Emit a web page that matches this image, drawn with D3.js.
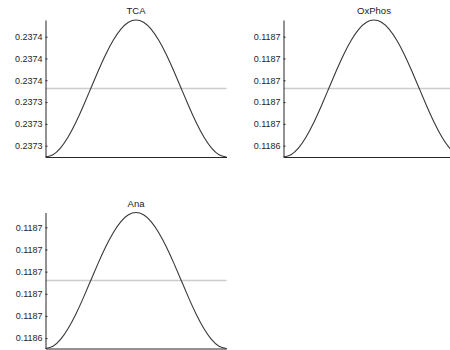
<!DOCTYPE html>
<html>
<head>
<meta charset="utf-8">
<script src="https://cdn.jsdelivr.net/npm/d3@7"></script>
<style>
  body { margin: 0; background: #fff; }
  svg { display: block; font-family: "Liberation Sans", Arial, sans-serif; }
</style>
</head>
<body>
<div id="viz"></div>
<script>
// panel names
const titles = ["TCA", "OxPhos", "Ana"];

// sample positions along x (no x labels on the chart)
const steps = d3.range(0, 25);

// curve values, one array per panel
const tcaValues = [0.2372896, 0.2372917, 0.2372980, 0.2373080, 0.2373210, 0.2373362, 0.2373525,
  0.2373687, 0.2373839, 0.2373969, 0.2374069, 0.2374132, 0.2374153, 0.2374132, 0.2374069,
  0.2373969, 0.2373839, 0.2373687, 0.2373525, 0.2373362, 0.2373210, 0.2373080, 0.2372980,
  0.2372917, 0.2372896];
const oxphosValues = [0.1186296, 0.1186317, 0.1186380, 0.1186480, 0.1186610, 0.1186762, 0.1186925,
  0.1187087, 0.1187239, 0.1187369, 0.1187469, 0.1187532, 0.1187553, 0.1187532, 0.1187469,
  0.1187369, 0.1187239, 0.1187087, 0.1186925, 0.1186762, 0.1186610, 0.1186480, 0.1186380,
  0.1186317, 0.1186296];
const anaValues = [0.1186306, 0.1186327, 0.1186388, 0.1186486, 0.1186613, 0.1186761, 0.1186920,
  0.1187079, 0.1187227, 0.1187354, 0.1187452, 0.1187513, 0.1187534, 0.1187513, 0.1187452,
  0.1187354, 0.1187227, 0.1187079, 0.1186920, 0.1186761, 0.1186613, 0.1186486, 0.1186388,
  0.1186327, 0.1186306];

// grey reference level (mean) per panel
const meanValues = [0.2373525, 0.1186925, 0.1186920];

// y tick values per panel
const tcaTicks = [0.23730, 0.23732, 0.23734, 0.23736, 0.23738, 0.23740];
const oxphosTicks = [0.11864, 0.11866, 0.11868, 0.11870, 0.11872, 0.11874];
const anaTicks = [0.11864, 0.11866, 0.11868, 0.11870, 0.11872, 0.11874];

const seriesValues = [tcaValues, oxphosValues, anaValues];
const tickValues = [tcaTicks, oxphosTicks, anaTicks];

// panel boxes (subplot grid)
const boxes = [
  {left: 45.5, right: 226.5, top: 20, bottom: 157},
  {left: 283.5, right: 464.5, top: 20, bottom: 157},
  {left: 45.5, right: 226.5, top: 212.5, bottom: 348.5}
];

const axisColor = "#262626";

const svg = d3.select("#viz")
  .append("svg")
    .attr("width", 450)
    .attr("height", 350);

titles.forEach(function(name, i) {
  const b = boxes[i];
  const values = seriesValues[i];

  const x = d3.scaleLinear()
      .domain(d3.extent(steps))
      .range([b.left, b.right]);

  const y = d3.scaleLinear()
      .domain(d3.extent(values))
      .range([b.bottom, b.top]);

  const g = svg.append("g");

  // grey mean line
  g.append("line")
      .attr("x1", x.range()[0])
      .attr("x2", x.range()[1])
      .attr("y1", y(meanValues[i]))
      .attr("y2", y(meanValues[i]))
      .attr("stroke", "#cccccc")
      .attr("stroke-width", 1.5);

  // the curve
  g.append("path")
      .datum(values)
      .attr("fill", "none")
      .attr("stroke", "#383838")
      .attr("stroke-width", 1.1)
      .attr("d", d3.line()
          .x(function(d, j) { return x(steps[j]); })
          .y(function(d) { return y(d); })
          .curve(d3.curveNatural));

  // bottom axis, no ticks
  const xAxis = g.append("g")
      .attr("transform", `translate(0,${b.bottom})`)
      .call(d3.axisBottom(x).tickValues([]).tickSizeOuter(0));
  xAxis.select(".domain").attr("stroke", axisColor);

  // left axis, small ticks pointing inward
  const yAxis = g.append("g")
      .attr("transform", `translate(${b.left},0)`)
      .call(d3.axisLeft(y)
          .tickValues(tickValues[i])
          .tickFormat(d3.format(".4f"))
          .tickSize(-2)
          .tickSizeOuter(0)
          .tickPadding(3));
  yAxis.select(".domain").attr("stroke", axisColor);
  yAxis.selectAll(".tick line").attr("stroke", axisColor);
  yAxis.selectAll(".tick text")
      .attr("fill", axisColor)
      .style("font-size", "9px")
      .style("font-family", "'Liberation Sans', Arial, sans-serif");

  // title
  g.append("text")
      .attr("x", (b.left + b.right) / 2)
      .attr("y", b.top - 6)
      .attr("text-anchor", "middle")
      .attr("fill", "#1a1a1a")
      .style("font-size", "9.5px")
      .text(name);
});
</script>
</body>
</html>
